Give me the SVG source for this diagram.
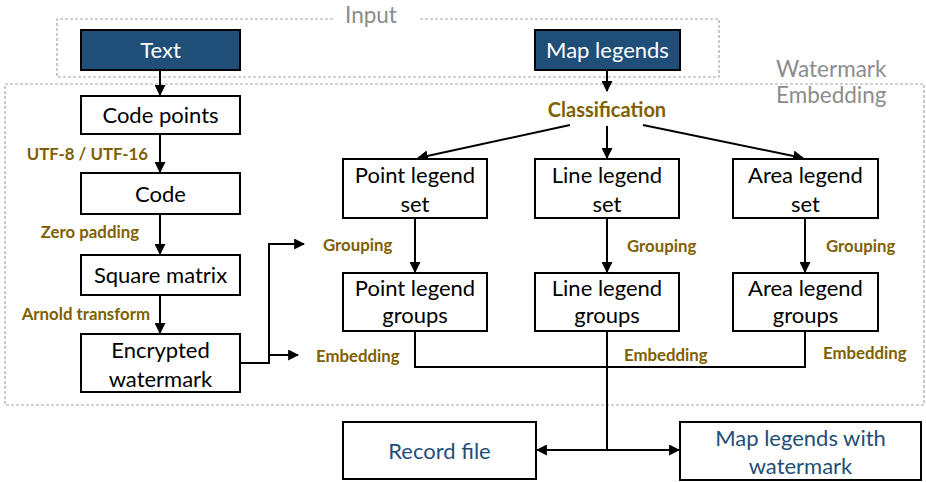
<svg xmlns="http://www.w3.org/2000/svg" width="926" height="482" viewBox="0 0 926 482">
  <style>
    .frame { fill: none; stroke: #a6a6a6; stroke-width: 1.2; stroke-dasharray: 3 2; }
    .region { font-family: Lato, "Open Sans", sans-serif; font-size: 22.5px; fill: #8c8c8c; }
    .box { fill: #ffffff; stroke: #000000; stroke-width: 2; }
    .input { fill: #1f4e79; stroke: #000000; stroke-width: 2; }
    .t { font-family: Lato, "Open Sans", sans-serif; font-size: 22px; fill: #000000; text-anchor: middle; }
    .tw { fill: #ffffff; }
    .tb { fill: #1f4e79; }
    .lbl { font-family: Lato, "Open Sans", sans-serif; font-size: 16.8px; font-weight: bold; fill: #7f6000; }
    .wire { fill: none; stroke: #000000; stroke-width: 2; }
    .arr { fill: none; stroke: #000000; stroke-width: 2; marker-end: url(#head); }
  </style>
  <defs>
    <marker id="head" viewBox="0 0 10 10" refX="9" refY="5" markerWidth="5.5" markerHeight="5.5" orient="auto" markerUnits="strokeWidth">
      <path d="M0,0 L10,5 L0,10 z" fill="#000000"/>
    </marker>
  </defs>

  <rect width="926" height="482" fill="#ffffff"/>

  <!-- stage frames -->
  <g id="input-frame">
    <path class="frame" d="M333,19 H57 V77 H719 V19 H420"/>
    <text class="region" x="371" y="23" text-anchor="middle">Input</text>
  </g>
  <g id="embedding-frame">
    <rect class="frame" x="5" y="84" width="919" height="321"/>
    <text class="region" x="776" y="77">Watermark</text>
    <text class="region" x="776" y="103">Embedding</text>
  </g>

  <!-- connectors -->
  <g id="connectors">
    <path class="arr" d="M160,70 V95"/>
    <path class="arr" d="M160,134 V172"/>
    <path class="arr" d="M160,214 V254"/>
    <path class="arr" d="M160,295 V333"/>
    <path class="arr" d="M607,70 V91"/>
    <path class="arr" d="M570,125 L418,158"/>
    <path class="arr" d="M607,126 V158"/>
    <path class="arr" d="M643,125 L803,158"/>
    <path class="arr" d="M415,218 V272"/>
    <path class="arr" d="M607,218 V272"/>
    <path class="arr" d="M805,218 V272"/>
    <path class="arr" d="M240,363 H269 V244 H304"/>
    <path class="arr" d="M269,355 H298"/>
    <path class="wire" d="M415,331 V367 H805 V331"/>
    <path class="wire" d="M607,331 V450"/>
    <path class="arr" d="M607,450 H537"/>
    <path class="arr" d="M607,450 H679"/>
  </g>

  <!-- labels on the arrows -->
  <g id="labels">
    <text class="lbl" x="148" y="160" text-anchor="end">UTF-8 / UTF-16</text>
    <text class="lbl" x="139" y="238" text-anchor="end">Zero padding</text>
    <text class="lbl" x="150" y="320" text-anchor="end">Arnold transform</text>
    <text class="lbl" x="607" y="117" text-anchor="middle" style="font-size:20px">Classification</text>
    <text class="lbl" x="323" y="251">Grouping</text>
    <text class="lbl" x="627" y="252">Grouping</text>
    <text class="lbl" x="826" y="252">Grouping</text>
    <text class="lbl" x="316" y="362">Embedding</text>
    <text class="lbl" x="624" y="361">Embedding</text>
    <text class="lbl" x="823" y="359">Embedding</text>
  </g>

  <!-- inputs -->
  <g id="text-input">
    <rect class="input" x="81" y="30" width="159" height="40"/>
    <text class="t tw" x="160.5" y="58">Text</text>
  </g>
  <g id="map-legends">
    <rect class="input" x="535" y="30" width="145" height="40"/>
    <text class="t tw" x="607.5" y="58">Map legends</text>
  </g>

  <!-- text pipeline -->
  <g id="code-points">
    <rect class="box" x="81" y="96" width="159" height="38"/>
    <text class="t" x="160.5" y="123">Code points</text>
  </g>
  <g id="code">
    <rect class="box" x="81" y="173" width="159" height="41"/>
    <text class="t" x="160.5" y="202">Code</text>
  </g>
  <g id="square-matrix">
    <rect class="box" x="81" y="255" width="159" height="40"/>
    <text class="t" x="160.5" y="283">Square matrix</text>
  </g>
  <g id="encrypted-watermark">
    <rect class="box" x="81" y="334" width="159" height="58"/>
    <text class="t" x="160.5" y="358">Encrypted</text>
    <text class="t" x="160.5" y="387">watermark</text>
  </g>

  <!-- legend sets -->
  <g id="point-set">
    <rect class="box" x="343" y="159" width="144" height="59"/>
    <text class="t" x="415" y="183">Point legend</text>
    <text class="t" x="415" y="212">set</text>
  </g>
  <g id="line-set">
    <rect class="box" x="535" y="159" width="144" height="59"/>
    <text class="t" x="607" y="183">Line legend</text>
    <text class="t" x="607" y="212">set</text>
  </g>
  <g id="area-set">
    <rect class="box" x="733" y="159" width="145" height="59"/>
    <text class="t" x="805.5" y="183">Area legend</text>
    <text class="t" x="805.5" y="212">set</text>
  </g>

  <!-- legend groups -->
  <g id="point-groups">
    <rect class="box" x="343" y="273" width="144" height="58"/>
    <text class="t" x="415" y="296">Point legend</text>
    <text class="t" x="415" y="323">groups</text>
  </g>
  <g id="line-groups">
    <rect class="box" x="535" y="273" width="144" height="58"/>
    <text class="t" x="607" y="296">Line legend</text>
    <text class="t" x="607" y="323">groups</text>
  </g>
  <g id="area-groups">
    <rect class="box" x="733" y="273" width="145" height="58"/>
    <text class="t" x="805.5" y="296">Area legend</text>
    <text class="t" x="805.5" y="323">groups</text>
  </g>

  <!-- outputs -->
  <g id="record-file">
    <rect class="box" x="343" y="422" width="193" height="57"/>
    <text class="t tb" x="439.5" y="459">Record file</text>
  </g>
  <g id="watermarked-legends">
    <rect class="box" x="680" y="422" width="241" height="58"/>
    <text class="t tb" x="800.5" y="446">Map legends with</text>
    <text class="t tb" x="800.5" y="474">watermark</text>
  </g>
</svg>
